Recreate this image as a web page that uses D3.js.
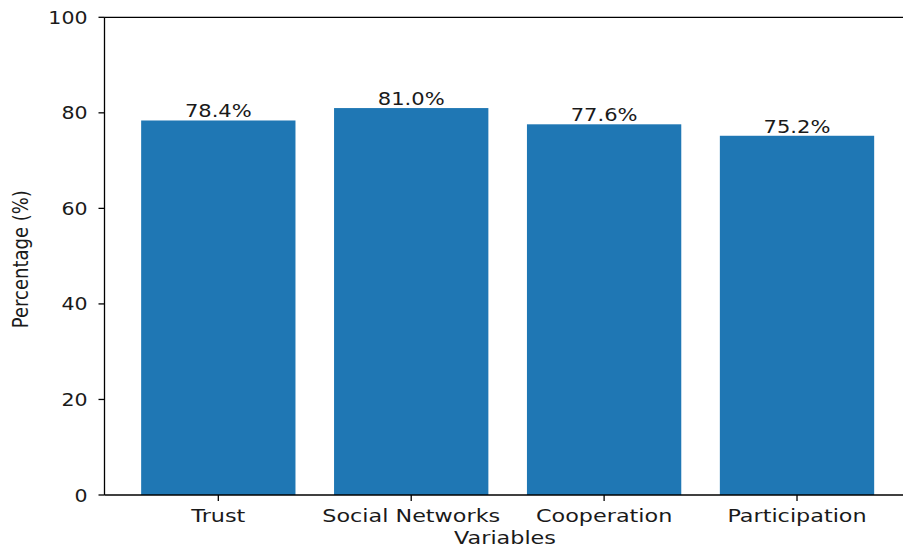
<!DOCTYPE html>
<html><head><meta charset="utf-8">
<script src="https://cdn.jsdelivr.net/npm/d3@7"></script>
<style>body{margin:0;background:#fff}svg{display:block}text{font-family:"DejaVu Sans",sans-serif;fill:#1a1a1a}</style>
</head><body>
<script>
const categories = ["Trust", "Social Networks", "Cooperation", "Participation"];
const values = [78.4, 81.0, 77.6, 75.2];
const yTicks = [0, 20, 40, 60, 80, 100];
const xLabel = "Variables";
const yLabel = "Percentage (%)";

const W = 903, H = 548, SX = 1.14, SXB = 1.24, FS = 18;
const svg = d3.select("body").append("svg").attr("width", W).attr("height", H);
const mLeft = 104.5, mTop = 17.3, mBottom = 495;
const x = d3.scaleBand().domain(categories).range([mLeft, mLeft + 4.18 * 192.9]).paddingInner(0.2).paddingOuter(0.19);
const y = d3.scaleLinear().domain([0, 100]).range([mBottom, mTop]);

svg.selectAll("rect.bar").data(values).enter().append("rect")
  .attr("x", (d, i) => x(categories[i])).attr("width", x.bandwidth())
  .attr("y", d => y(d)).attr("height", d => y(0) - y(d)).attr("fill", "#1f77b4");

const txt = (xx, yy, s, anchor, rot, sx) => svg.append("text")
  .attr("transform", `translate(${xx},${yy}) scale(${sx || SX},1)` + (rot ? ` rotate(${rot})` : ""))
  .attr("text-anchor", anchor).attr("font-size", FS).text(s);

// axes lines
svg.append("line").attr("x1", mLeft).attr("x2", W).attr("y1", mTop).attr("y2", mTop).attr("stroke", "#000").attr("stroke-width", 1.3);
svg.append("line").attr("x1", mLeft).attr("x2", W).attr("y1", mBottom).attr("y2", mBottom).attr("stroke", "#000").attr("stroke-width", 1.3);
svg.append("line").attr("x1", mLeft).attr("x2", mLeft).attr("y1", mTop).attr("y2", mBottom).attr("stroke", "#000").attr("stroke-width", 1.3);

yTicks.forEach(t => {
  svg.append("line").attr("x1", mLeft - 6).attr("x2", mLeft).attr("y1", y(t)).attr("y2", y(t)).attr("stroke", "#000").attr("stroke-width", 1.3);
  txt(mLeft - 17, y(t) + 6.5, String(t), "end");
});
categories.forEach((c, i) => {
  const cx = x(c) + x.bandwidth() / 2;
  svg.append("line").attr("x1", cx).attr("x2", cx).attr("y1", mBottom).attr("y2", mBottom + 6).attr("stroke", "#000").attr("stroke-width", 1.3);
  txt(cx, 522, c, "middle", 0, SXB);
  txt(cx, y(values[i]) - 3, values[i].toFixed(1) + "%", "middle", 0, 1.17);
});
txt(505, 544, xLabel, "middle", 0, SXB);
txt(28, (mTop + mBottom) / 2 + 3, yLabel, "middle", -90);
</script>
</body></html>
